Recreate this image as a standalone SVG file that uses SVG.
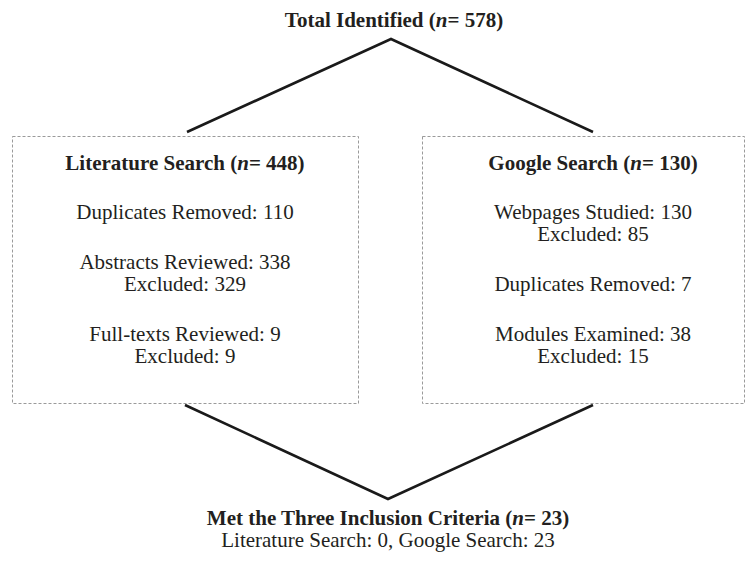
<svg xmlns="http://www.w3.org/2000/svg" width="756" height="562" viewBox="0 0 756 562">
<style>
text{font-family:"Liberation Serif","Times New Roman",serif;font-size:21px;fill:#231f20;text-anchor:middle}
.b{font-weight:bold}
.box{fill:none;stroke:#9a9a9a;stroke-width:1;stroke-dasharray:3 2}
.conn{fill:none;stroke:#1a1a1a;stroke-width:2.6}
</style>
<rect width="756" height="562" fill="#ffffff"/>
<g id="connectors">
<polyline class="conn" points="187,132 391,39 593,132"/>
<polyline class="conn" points="185,405 388,499 593,405"/>
</g>
<g id="total">
<text class="b" x="394" y="27">Total Identified (<tspan font-style="italic">n</tspan>= 578)</text>
</g>
<g id="literature">
<rect class="box" x="12.5" y="136.5" width="346" height="267"/>
<text class="b" x="185" y="170">Literature Search (<tspan font-style="italic">n</tspan>= 448)</text>
<text x="185" y="219">Duplicates Removed: 110</text>
<text x="185" y="269">Abstracts Reviewed: 338</text>
<text x="185" y="291">Excluded: 329</text>
<text x="185" y="341">Full-texts Reviewed: 9</text>
<text x="185" y="363">Excluded: 9</text>
</g>
<g id="google">
<rect class="box" x="422.5" y="136.5" width="322" height="267"/>
<text class="b" x="593" y="170">Google Search (<tspan font-style="italic">n</tspan>= 130)</text>
<text x="593" y="219">Webpages Studied: 130</text>
<text x="593" y="241">Excluded: 85</text>
<text x="593" y="291">Duplicates Removed: 7</text>
<text x="593" y="341">Modules Examined: 38</text>
<text x="593" y="363">Excluded: 15</text>
</g>
<g id="included">
<text class="b" x="388" y="525">Met the Three Inclusion Criteria (<tspan font-style="italic">n</tspan>= 23)</text>
<text x="388" y="547">Literature Search: 0, Google Search: 23</text>
</g>
</svg>
